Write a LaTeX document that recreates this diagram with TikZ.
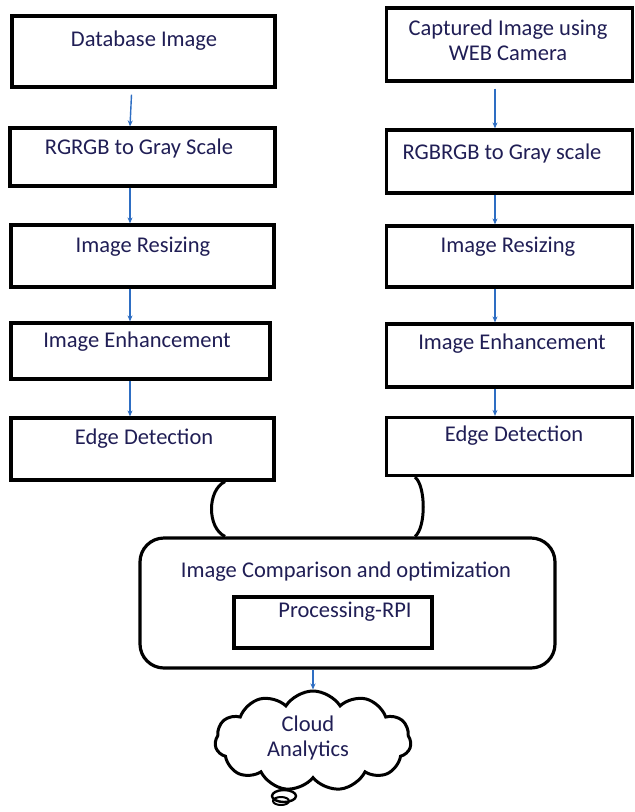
\documentclass[tikz,border=0pt]{standalone}
\usepackage{fontspec}
\setmainfont{Carlito}
\usetikzlibrary{arrows.meta,shapes.symbols,calc}
\definecolor{txtc}{RGB}{32,30,85}
\definecolor{arrc}{RGB}{46,110,195}
\tikzset{
  stepbox/.style={draw=black, line width=3.2pt, rectangle, inner sep=0pt},
  lbl/.style={text=txtc, font=\fontsize{22.5}{25}\selectfont, align=center, inner sep=0pt},
  arr/.style={draw=arrc, line width=1.4pt, -{Stealth[length=6pt,width=5pt]}},
  link/.style={draw=black, line width=3pt},
}
\begin{document}
\begin{tikzpicture}[x=1pt,y=-1pt]
\useasboundingbox[fill=white] (0,0) rectangle (635,812);
% left column
\node[stepbox, minimum width=263, minimum height=71] (l1) at (143.5,51.5) {};
\node[stepbox, minimum width=265, minimum height=58] (l2) at (142.5,157) {};
\node[stepbox, minimum width=263, minimum height=62] (l3) at (142.5,256) {};
\node[stepbox, minimum width=259, minimum height=56] (l4) at (140.5,351) {};
\node[stepbox, minimum width=263, minimum height=62] (l5) at (142.5,449) {};
\node[lbl] (t11) at (144,41) {Database Image};
\node[lbl] (t12) at (139,148) {RGRGB to Gray Scale};
\node[lbl] (t13) at (143,247) {Image Resizing};
\node[lbl] (t14) at (137,342) {Image Enhancement};
\node[lbl] (t15) at (144,439) {Edge Detection};
% right column
\node[stepbox, minimum width=246, minimum height=73] (r1) at (509.5,44.5) {};
\node[stepbox, minimum width=246, minimum height=63] (r2) at (509.5,161.5) {};
\node[stepbox, minimum width=246, minimum height=61] (r3) at (509.5,256.5) {};
\node[stepbox, minimum width=246, minimum height=63] (r4) at (509.5,355.5) {};
\node[stepbox, minimum width=246, minimum height=58] (r5) at (509.5,446.5) {};
\node[lbl] (t21) at (508,40.5) {Captured Image using\\WEB Camera};
\node[lbl] (t22) at (502,153) {RGBRGB to Gray scale};
\node[lbl] (t23) at (508,247) {Image Resizing};
\node[lbl] (t24) at (512,344) {Image Enhancement};
\node[lbl] (t25) at (514,436) {Edge Detection};
% arrows
\coordinate (xl) at (130,0);
\coordinate (xr) at (495,0);
\draw[arr] ($(l1.south -| xl)+(1.5,6)$) -- (l2.north -| xl);
\draw[arr] (l2.south -| xl) -- (l3.north -| xl);
\draw[arr] (l3.south -| xl) -- (l4.north -| xl);
\draw[arr] (l4.south -| xl) -- (l5.north -| xl);
\draw[arr] ($(r1.south -| xr)+(0,6)$) -- (r2.north -| xr);
\draw[arr] (r2.south -| xr) -- (r3.north -| xr);
\draw[arr] (r3.south -| xr) -- (r4.north -| xr);
\draw[arr] (r4.south -| xr) -- (r5.north -| xr);
% comparison box
\node[draw=black, line width=3.2pt, rounded corners=24pt, minimum width=415, minimum height=130, inner sep=0pt] (cmp) at (347.5,603) {};
\node[lbl] (tc) at (346,572) {Image Comparison and optimization};
\node[stepbox, minimum width=198, minimum height=51] (rpi) at (333,622.5) {};
\node[lbl] (tr) at (345,612) {Processing-RPI};
% links
\coordinate (xa) at (225,0);
\coordinate (xb) at (415,0);
\draw[link] (l5.south -| xa) .. controls (207,490) and (207,528) .. (cmp.north -| xa);
\draw[link] (r5.south -| xb) .. controls (426,486) and (426,528) .. (cmp.north -| xb);
% cloud
\node[cloud, draw=black, line width=3pt, cloud puffs=11, cloud puff arc=115, aspect=2, minimum width=196, minimum height=100, inner sep=0pt] (cl) at (313,741) {};
\node[lbl] (tcl) at (308,737.5) {Cloud\\Analytics};
\draw[link, line width=2.4pt] (284,796) ellipse (12 and 6);
\draw[link, line width=2pt] (281,801) ellipse (8 and 4);
\coordinate (xc) at (313,0);
\draw[arr] (cmp.south -| xc) -- (cl.north -| xc);
\end{tikzpicture}
\end{document}
